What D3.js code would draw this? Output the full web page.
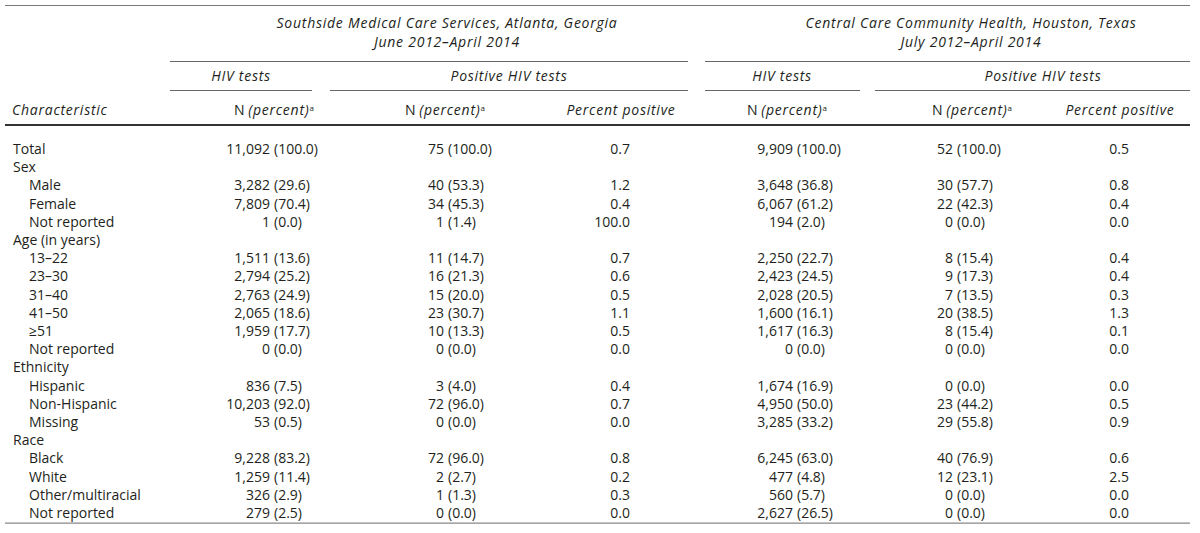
<!DOCTYPE html>
<html><head><meta charset="utf-8">
<script src="https://cdn.jsdelivr.net/npm/d3@7/dist/d3.min.js"></script>
<style>
html,body{margin:0;padding:0;background:#fff;}
svg text{font-family:"Open Sans","Noto Sans",sans-serif;fill:#231f20;}
</style></head>
<body><svg id="c" width="1200" height="533"></svg>
<script>
// ---- data ----
const rowLabels = ["Total","Sex","Male","Female","Not reported","Age (in years)","13\u201322","23\u201330","31\u201340","41\u201350","\u226551","Not reported","Ethnicity","Hispanic","Non-Hispanic","Missing","Race","Black","White","Other/multiracial","Not reported"];
const rowLevel  = [0,0,1,1,1,0,1,1,1,1,1,1,0,1,1,1,0,1,1,1,1];

const siteTitles = ["Southside Medical Care Services, Atlanta, Georgia","Central Care Community Health, Houston, Texas"];
const sitePeriods = ["June 2012\u2013April 2014","July 2012\u2013April 2014"];
const subGroups = ["HIV tests","Positive HIV tests"];

const atlTestN   = [11092,null,3282,7809,1,null,1511,2794,2763,2065,1959,0,null,836,10203,53,null,9228,1259,326,279];
const atlTestPct = [100.0,null,29.6,70.4,0.0,null,13.6,25.2,24.9,18.6,17.7,0.0,null,7.5,92.0,0.5,null,83.2,11.4,2.9,2.5];
const atlPosN    = [75,null,40,34,1,null,11,16,15,23,10,0,null,3,72,0,null,72,2,1,0];
const atlPosPct  = [100.0,null,53.3,45.3,1.4,null,14.7,21.3,20.0,30.7,13.3,0.0,null,4.0,96.0,0.0,null,96.0,2.7,1.3,0.0];
const atlPctPos  = [0.7,null,1.2,0.4,100.0,null,0.7,0.6,0.5,1.1,0.5,0.0,null,0.4,0.7,0.0,null,0.8,0.2,0.3,0.0];
const houTestN   = [9909,null,3648,6067,194,null,2250,2423,2028,1600,1617,0,null,1674,4950,3285,null,6245,477,560,2627];
const houTestPct = [100.0,null,36.8,61.2,2.0,null,22.7,24.5,20.5,16.1,16.3,0.0,null,16.9,50.0,33.2,null,63.0,4.8,5.7,26.5];
const houPosN    = [52,null,30,22,0,null,8,9,7,20,8,0,null,0,23,29,null,40,12,0,0];
const houPosPct  = [100.0,null,57.7,42.3,0.0,null,15.4,17.3,13.5,38.5,15.4,0.0,null,0.0,44.2,55.8,null,76.9,23.1,0.0,0.0];
const houPctPos  = [0.5,null,0.8,0.4,0.0,null,0.4,0.4,0.3,1.3,0.1,0.0,null,0.0,0.5,0.9,null,0.6,2.5,0.0,0.0];

// ---- layout ----
const svg = d3.select("#c");
const FS = 14;
const LS = "0.75px"; // letter spacing for italic headings
const fmtN = d3.format(",");
const fmtP = d3.format(".1f");
const lineCol = "#666";

const y = d3.scaleBand().domain(d3.range(rowLabels.length)).range([140, 140 + rowLabels.length*18.2]).padding(0);
const yc = i => y(i) + y.bandwidth()/2;

function hline(x1,x2,yy,w,col){
  svg.append("line").attr("x1",x1).attr("x2",x2).attr("y1",yy).attr("y2",yy)
    .attr("stroke",col||lineCol).attr("stroke-width",w||1);
}
function txt(x,yy,s,anchor,italic,size){
  const t = svg.append("text").attr("x",x).attr("y",yy).attr("dy","0.35em")
    .attr("text-anchor",anchor||"start").attr("font-size",size||FS)
    .attr("font-style",italic?"italic":"normal").text(s);
  if(italic) t.attr("letter-spacing",LS);
  return t;
}

// rules
hline(5,1190,5.5,1.2,"#777");
hline(170,688,61.5,1.2);
hline(705,1190,61.5,1.2);
hline(170,312,90.5,1.2);
hline(330,688,90.5,1.2);
hline(705,860,90.5,1.2);
hline(875,1190,90.5,1.2);
hline(5,1190,125,2,"#333");
hline(5,1190,y.range()[1]+1,1.2,"#888");

// site titles
const titleX = [447,971];
siteTitles.forEach((t,i)=>{ txt(titleX[i],23,t,"middle",true); txt(titleX[i],42,sitePeriods[i],"middle",true); });
// subgroup labels
const subX = [241,509,782,1043];
subX.forEach((x,i)=> txt(x,76,subGroups[i%2],"middle",true));

// column headers
txt(12,110,"Characteristic","start",true);
const nHeadX = [274,445,787,972];
nHeadX.forEach(x=>{
  const t = svg.append("text").attr("x",x).attr("y",110).attr("dy","0.35em").attr("text-anchor","middle").attr("font-size",FS);
  t.append("tspan").text("N ");
  t.append("tspan").attr("font-style","italic").attr("letter-spacing",LS).text("(percent)");
  t.append("tspan").attr("font-size",8).attr("dy","-0.5em").text("a");
});
[621,1120].forEach(x=> txt(x,110,"Percent positive","middle",true));

// row labels
rowLabels.forEach((l,i)=> txt(rowLevel[i]?29:13, yc(i), l, "start", false));

// N (percent) columns
function npCol(nArr,pArr,xEnd){
  nArr.forEach((n,i)=>{
    if(n===null) return;
    txt(xEnd, yc(i), fmtN(n), "end");
    txt(xEnd+4, yc(i), "("+fmtP(pArr[i])+")", "start");
  });
}
npCol(atlTestN,atlTestPct,270);
npCol(atlPosN,atlPosPct,444);
npCol(houTestN,houTestPct,793);
npCol(houPosN,houPosPct,953);
function pCol(arr,xEnd){ arr.forEach((v,i)=>{ if(v!==null) txt(xEnd,yc(i),fmtP(v),"end"); }); }
pCol(atlPctPos,630);
pCol(houPctPos,1129);
</script></body></html>
